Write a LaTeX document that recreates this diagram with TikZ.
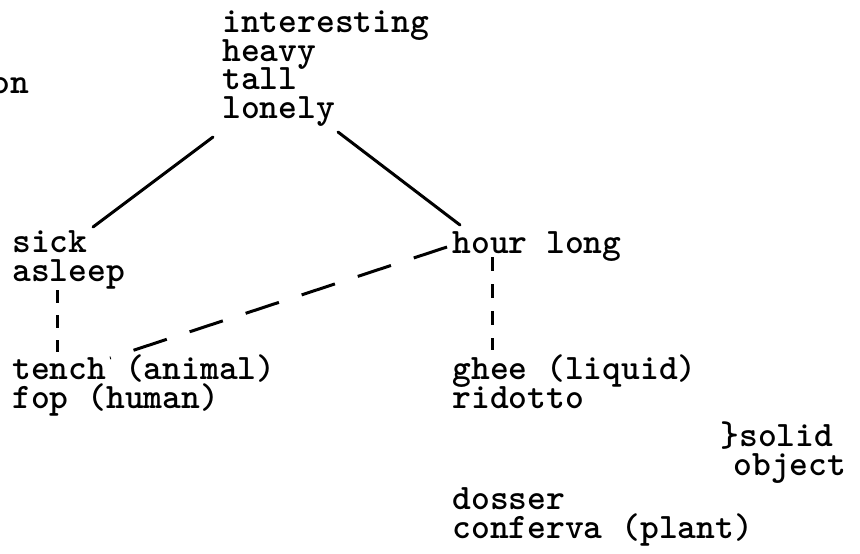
\documentclass[tikz,border=0pt]{standalone}
\usetikzlibrary{calc}
\setlength{\lineskiplimit}{-20pt}

\begin{document}
\begin{tikzpicture}[x=0.5pt, y=-0.5pt,
          words/.style={font=\ttfamily\bfseries\fontsize{17.9}{14.25}\selectfont,
              align=left, inner sep=0pt, anchor=base west},
          link/.style={line width=1.5pt, line cap=round},
          longdash/.style={link, line cap=butt, dash pattern=on 17.5pt off 12pt},
          shortdash/.style={link, line cap=butt, dash pattern=on 6.5pt off 6pt},
          middash/.style={link, line cap=butt, dash pattern=on 7pt off 6.5pt}
        ]
        \useasboundingbox (0,0) rectangle (860,553);
        \node[words] (on)     at (-9,93)   {on};
        \node[words] (adj)    at (222,118) {interesting\\heavy\\tall\\lonely};
        \node[words] (sick)   at (12,281)  {sick\\asleep};
        \node[words] (hour)   at (452,253) {hour long};
        \node[words] (tench)  at (12,408)  {tench (animal)\\fop (human)};
        \node[words] (ghee)   at (452,408) {ghee (liquid)\\ridotto};
        \node[words] (solid)  at (720,475) {\}solid\\\hspace*{6.5pt}object};
        \node[words] (dosser) at (452,538) {dosser\\conferva (plant)};
        \draw[link] ($(adj.base west)+(-9,19)$) -- ($(sick.base west)+(81,-54)$);
        \draw[link] ($(adj.base west)+(116,14)$) -- ($(hour.base west)+(8,-28)$);
        \draw[longdash] ($(hour.base west)+(-5,-6)$) -- ($(tench.base west)+(98,-50)$);
        \draw[shortdash] ($(sick.base west)+(45,9)$) -- ($(tench.base west)+(45,-56)$);
        \draw[middash] ($(hour.base west)+(40,4)$) -- ($(ghee.base west)+(40,-58)$);
      \end{tikzpicture}
\end{document}
